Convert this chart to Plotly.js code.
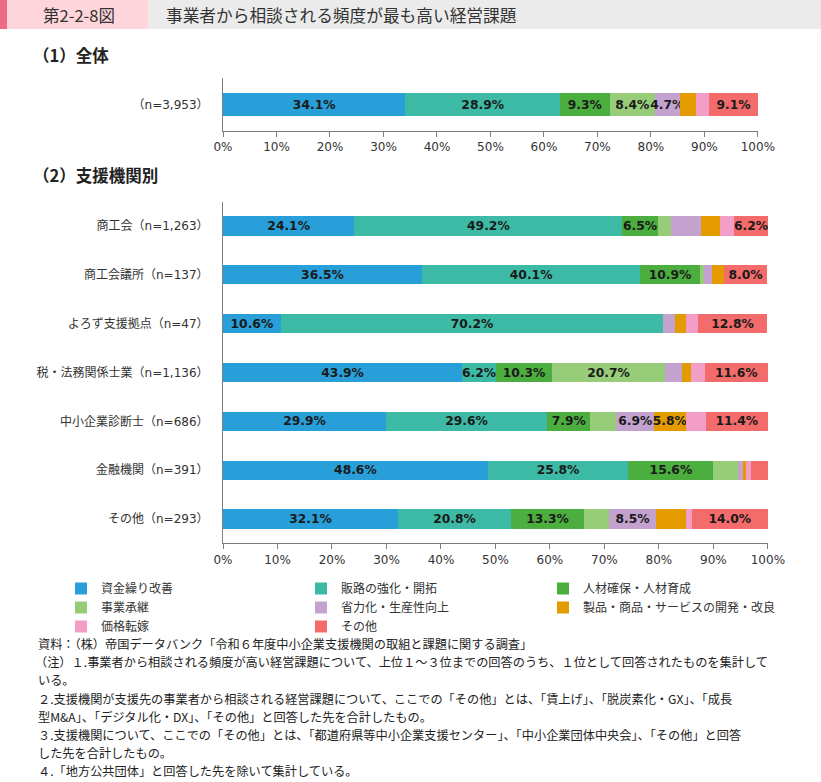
<!DOCTYPE html>
<html>
<head>
<meta charset="utf-8">
<script src="https://cdn.plot.ly/plotly-3.0.1.min.js"></script>
<style>html,body{margin:0;padding:0;background:#fff}#chart{width:821px;height:782px}</style>
</head>
<body>
<div id="chart"></div>
<script>
// ---- data ----
const seriesNames = ['資金繰り改善','販路の強化・開拓','人材確保・人材育成','事業承継','省力化・生産性向上','製品・商品・サービスの開発・改良','価格転嫁','その他'];
const seriesColors = ['#289FD8','#3DBAA5','#4BAE3F','#97CD79','#C3A2CF','#E49B00','#F29EC6','#F46B6B'];

const topCategory = ['（n=3,953）'];
const topValues = [34.1, 28.9, 9.3, 8.4, 4.7, 3.1, 2.4, 9.1];
const topShown  = [1, 1, 1, 1, 1, 0, 0, 1];

const categories = ['商工会（n=1,263）','商工会議所（n=137）','よろず支援拠点（n=47）','税・法務関係士業（n=1,136）','中小企業診断士（n=686）','金融機関（n=391）','その他（n=293）'];
const v_shikin   = [24.1, 36.5, 10.6, 43.9, 29.9, 48.6, 32.1];
const v_hanro    = [49.2, 40.1, 70.2,  6.2, 29.6, 25.8, 20.8];
const v_jinzai   = [ 6.5, 10.9,  0.0, 10.3,  7.9, 15.6, 13.3];
const v_shokei   = [ 2.4,  0.7,  0.0, 20.7,  4.8,  4.6,  4.7];
const v_shoryoku = [ 5.5,  1.5,  2.1,  3.2,  6.9,  0.8,  8.5];
const v_seihin   = [ 3.5,  2.2,  2.1,  1.5,  5.8,  0.5,  5.6];
const v_kakaku   = [ 2.6,  0.0,  2.1,  2.6,  3.7,  1.0,  1.0];
const v_sonota   = [ 6.2,  8.0, 12.8, 11.6, 11.4,  3.1, 14.0];
const bottomValues = [v_shikin, v_hanro, v_jinzai, v_shokei, v_shoryoku, v_seihin, v_kakaku, v_sonota];
// which segment labels are printed in the original
const s_shikin   = [1,1,1,1,1,1,1];
const s_hanro    = [1,1,1,1,1,1,1];
const s_jinzai   = [1,1,0,1,1,1,1];
const s_shokei   = [0,0,0,1,0,0,0];
const s_shoryoku = [0,0,0,0,1,0,1];
const s_seihin   = [0,0,0,0,1,0,0];
const s_kakaku   = [0,0,0,0,0,0,0];
const s_sonota   = [1,1,1,1,1,0,1];
const bottomShown = [s_shikin, s_hanro, s_jinzai, s_shokei, s_shoryoku, s_seihin, s_kakaku, s_sonota];
const legendOf = ['legend','legend2','legend3','legend','legend2','legend3','legend','legend2'];

const xTicks = [0,10,20,30,40,50,60,70,80,90,100];
const xTickText = ['0%','10%','20%','30%','40%','50%','60%','70%','80%','90%','100%'];

const noteLines = [
  '資料：（株）帝国データバンク「令和６年度中小企業支援機関の取組と課題に関する調査」',
  '（注）１.事業者から相談される頻度が高い経営課題について、上位１～３位までの回答のうち、１位として回答されたものを集計して',
  'いる。',
  '２.支援機関が支援先の事業者から相談される経営課題について、ここでの「その他」とは、「賃上げ」、「脱炭素化・GX」、「成長',
  '型M&amp;A」、「デジタル化・DX」、「その他」と回答した先を合計したもの。',
  '３.支援機関について、ここでの「その他」とは、「都道府県等中小企業支援センター」、「中小企業団体中央会」、「その他」と回答',
  'した先を合計したもの。',
  '４.「地方公共団体」と回答した先を除いて集計している。'
];

// ---- helpers ----
const W = 821, H = 782;
const px = x => x / W;
const py = y => 1 - y / H;
const JP = 'Noto Sans CJK JP';
const LAT = 'DejaVu Sans, Noto Sans CJK JP';
const fmt = v => v.toFixed(1) + '%';

const labelFont = {family: 'DejaVu Sans', size: 12.3, color: '#1a1a1a', weight: 'bold'};

const traces = [];
seriesNames.forEach((name, i) => {
  traces.push({
    type: 'bar', orientation: 'h', name: name,
    x: [topValues[i]], y: topCategory,
    xaxis: 'x', yaxis: 'y',
    marker: {color: seriesColors[i], line: {width: 0}},
    width: 0.42,
    text: [topShown[i] ? fmt(topValues[i]) : ''],
    textposition: 'inside', insidetextanchor: 'middle', constraintext: 'none',
    textfont: labelFont, insidetextfont: labelFont,
    cliponaxis: false, showlegend: false, hoverinfo: 'skip'
  });
});
seriesNames.forEach((name, i) => {
  traces.push({
    type: 'bar', orientation: 'h', name: name,
    x: bottomValues[i], y: categories,
    xaxis: 'x2', yaxis: 'y2',
    marker: {color: seriesColors[i], line: {width: 0}},
    width: 0.39,
    text: bottomValues[i].map((v, j) => bottomShown[i][j] ? fmt(v) : ''),
    textposition: 'inside', insidetextanchor: 'middle', constraintext: 'none',
    textfont: labelFont, insidetextfont: labelFont,
    cliponaxis: false, showlegend: true, legend: legendOf[i], hoverinfo: 'skip'
  });
});

const axisCol = '#7f7f7f';
const xaxisBase = {
  range: [0, 100.02], tickmode: 'array', tickvals: xTicks, ticktext: xTickText,
  showline: true, linecolor: axisCol, linewidth: 1,
  ticks: 'outside', ticklen: 5, tickcolor: axisCol, tickwidth: 1,
  tickfont: {family: 'DejaVu Sans', size: 12, color: '#333'},
  showgrid: false, zeroline: false, fixedrange: true
};
const yaxisBase = {
  type: 'category', autorange: 'reversed',
  showline: true, linecolor: axisCol, linewidth: 1,
  ticks: '', ticklabelstandoff: 11,
  tickfont: {family: LAT, size: 12, color: '#333'},
  showgrid: false, zeroline: false, fixedrange: true
};

const legendBase = {
  orientation: 'v', xanchor: 'left', yanchor: 'top', traceorder: 'normal',
  font: {family: JP, size: 12, color: '#333'},
  bgcolor: 'rgba(0,0,0,0)', borderwidth: 0, tracegroupgap: 0,
  itemclick: false, itemdoubleclick: false
};

const annotations = [
  {text: '第2-2-8図', x: px(41), y: py(15), xref: 'paper', yref: 'paper', xanchor: 'left', yanchor: 'middle', showarrow: false, font: {family: JP, size: 16.5, color: '#333'}},
  {text: '事業者から相談される頻度が最も高い経営課題', x: px(164), y: py(15), xref: 'paper', yref: 'paper', xanchor: 'left', yanchor: 'middle', showarrow: false, font: {family: JP, size: 16.7, color: '#333'}},
  {text: '（1）全体', x: px(31), y: py(55), xref: 'paper', yref: 'paper', xanchor: 'left', yanchor: 'middle', showarrow: false, font: {family: JP, size: 16.5, color: '#222', weight: 'bold'}},
  {text: '（2）支援機関別', x: px(31), y: py(175), xref: 'paper', yref: 'paper', xanchor: 'left', yanchor: 'middle', showarrow: false, font: {family: JP, size: 16.5, color: '#222', weight: 'bold'}}
];
noteLines.forEach((t, i) => {
  annotations.push({
    text: t, x: px(i === 1 ? 33 : 36), y: py(644 + 18.2 * i), xref: 'paper', yref: 'paper',
    xanchor: 'left', yanchor: 'middle', showarrow: false,
    font: {family: JP, size: 12.2, color: '#222'}
  });
});

const layout = {
  width: W, height: H,
  margin: {l: 0, r: 0, t: 0, b: 0},
  paper_bgcolor: '#fff', plot_bgcolor: 'rgba(0,0,0,0)',
  barmode: 'stack', bargap: 0.6,
  showlegend: true,
  xaxis: Object.assign({}, xaxisBase, {domain: [px(223), px(758)], anchor: 'y'}),
  yaxis: Object.assign({}, yaxisBase, {domain: [py(131), py(78)], anchor: 'x'}),
  xaxis2: Object.assign({}, xaxisBase, {domain: [px(223), px(768)], anchor: 'y2'}),
  yaxis2: Object.assign({}, yaxisBase, {domain: [py(543.4), py(201.6)], anchor: 'x2'}),
  legend:  Object.assign({}, legendBase, {x: px(61),  y: py(574)}),
  legend2: Object.assign({}, legendBase, {x: px(301), y: py(574)}),
  legend3: Object.assign({}, legendBase, {x: px(543), y: py(574)}),
  shapes: [
    {type: 'rect', xref: 'paper', yref: 'paper', x0: 0, x1: 1, y0: py(29), y1: py(0), fillcolor: '#EBEBEB', line: {width: 0}, layer: 'below'},
    {type: 'rect', xref: 'paper', yref: 'paper', x0: 0, x1: px(148), y0: py(29), y1: py(0), fillcolor: '#FDD5DA', line: {width: 0}, layer: 'below'},
    {type: 'rect', xref: 'paper', yref: 'paper', x0: 0, x1: px(7), y0: py(29), y1: py(0), fillcolor: '#EE6B85', line: {width: 0}, layer: 'below'}
  ],
  annotations: annotations,
  font: {family: JP, color: '#333'}
};

Plotly.newPlot('chart', traces, layout, {displayModeBar: false, staticPlot: true});
</script>
</body>
</html>
